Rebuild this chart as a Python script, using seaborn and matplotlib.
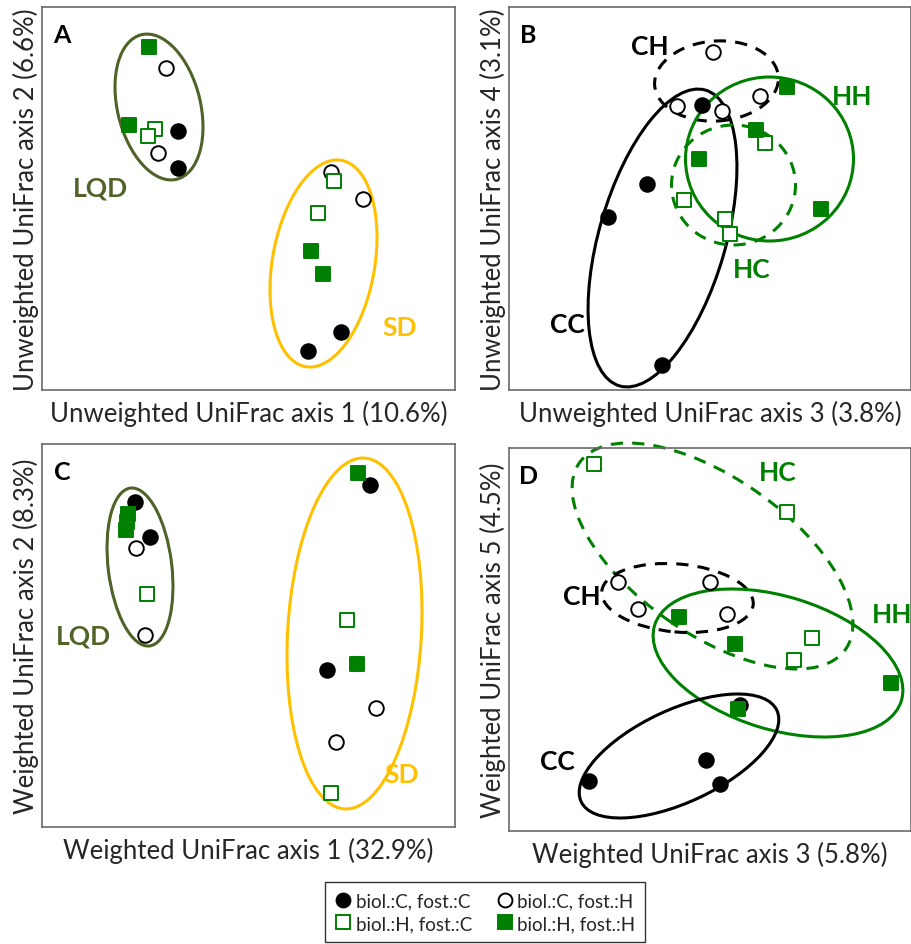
import numpy as np
import pandas as pd
import matplotlib
matplotlib.use("Agg")
import matplotlib.pyplot as plt
from matplotlib.patches import Ellipse
from matplotlib.lines import Line2D
import seaborn as sns

sns.set_theme(style="white")
plt.rcParams['font.family'] = ['Lato', 'DejaVu Sans']

# ---------------- data (panel units, arbitrary ordination scale) ----------------
groups = ["biol.:C, fost.:C", "biol.:C, fost.:H", "biol.:H, fost.:C", "biol.:H, fost.:H"]

# Panel A: Unweighted UniFrac axis 1 vs 2
A_CC_x = [136, 136, 299, 266]; A_CC_y = [259, 222, 58, 39]
A_CH_x = [124, 116, 289, 321]; A_CH_y = [322, 237, 218, 191]
A_HC_x = [113, 106, 292, 276]; A_HC_y = [261, 254, 209, 177]
A_HH_x = [107, 87, 269, 281];  A_HH_y = [343, 265, 139, 116]

# Panel B: Unweighted UniFrac axis 3 vs 4
B_CC_x = [193, 138, 99, 153];  B_CC_y = [285, 206, 173, 25]
B_CH_x = [204, 168, 213, 251]; B_CH_y = [338, 284, 279, 294]
B_HC_x = [256, 175, 216, 221]; B_HC_y = [247, 190, 171, 156]
B_HH_x = [278, 247, 190, 312]; B_HH_y = [303, 260, 231, 181]

# Panel C: Weighted UniFrac axis 1 vs 2
C_CC_x = [93, 108, 328, 285];  C_CC_y = [325, 290, 342, 157]
C_CH_x = [94, 103, 334, 294];  C_CH_y = [279, 192, 119, 85]
C_HC_x = [105, 85, 305, 289];  C_HC_y = [233, 305, 207, 34]
C_HH_x = [86, 84, 316, 315];   C_HH_y = [313, 297, 354, 163]

# Panel D: Weighted UniFrac axis 3 vs 5
D_CC_x = [231, 197, 80, 211];  D_CC_y = [126, 71, 50, 47]
D_CH_x = [109, 201, 129, 218]; D_CH_y = [249, 249, 222, 217]
D_HC_x = [85, 278, 303, 285];  D_HC_y = [367, 319, 193, 171]
D_HH_x = [170, 226, 382, 229]; D_HH_y = [214, 187, 148, 122]

# ellipses: (cx, cy, semi-major, semi-minor, angle deg, colour key, dashed)
A_ellipses = [(117, 283, 74.4, 41.5, 103.7, "olive", False),
              (281.5, 126.5, 104.7, 51.2, 80.2, "gold", False)]
B_ellipses = [(153.5, 152, 154, 63.3, 73.8, "black", False),
              (207.5, 309, 62, 40, 4, "black", True),
              (260.5, 231, 84, 82, 0, "green", False),
              (224.5, 205, 62, 60, 0, "green", True)]
C_ellipses = [(98, 260, 79.5, 31.8, 96.9, "olive", False),
              (312.5, 193.5, 175.7, 66.9, 86.8, "gold", False)]
D_ellipses = [(203.5, 275, 162.5, 78, -35, "green", True),
              (168.5, 233, 76, 34, -5, "black", True),
              (269, 168, 129, 66.6, -17, "green", False),
              (170, 75, 108, 46.3, 25, "black", False)]

# labels: (text, x, y, colour key)
A_labels = [("LQD", 58, 202, "olive"), ("SD", 358, 63, "gold")]
B_labels = [("CH", 141, 344, "black"), ("HH", 343, 294, "green"),
            ("HC", 243, 121, "green"), ("CC", 58, 66, "black")]
C_labels = [("LQD", 41, 192, "olive"), ("SD", 360, 53, "gold")]
D_labels = [("HC", 269, 359, "green"), ("CH", 73, 235, "black"),
            ("HH", 383, 217, "green"), ("CC", 48, 70, "black")]

xlabels = ["Unweighted UniFrac axis 1 (10.6%)", "Unweighted UniFrac axis 3 (3.8%)",
           "Weighted UniFrac axis 1 (32.9%)", "Weighted UniFrac axis 3 (5.8%)"]
ylabels = ["Unweighted UniFrac axis 2 (6.6%)", "Unweighted UniFrac axis 4 (3.1%)",
           "Weighted UniFrac axis 2 (8.3%)", "Weighted UniFrac axis 5 (4.5%)"]
panel_letters = ["A", "B", "C", "D"]

# ---------------- styling ----------------
COL = {"black": "black", "green": "#008000", "olive": "#4f6228", "gold": "#ffc000"}
GREEN = COL["green"]
mstyle = {
    groups[0]: dict(marker="o", facecolor="black", edgecolor="black"),
    groups[1]: dict(marker="o", facecolor="white", edgecolor="black"),
    groups[2]: dict(marker="s", facecolor="white", edgecolor=GREEN),
    groups[3]: dict(marker="s", facecolor=GREEN, edgecolor=GREEN),
}

panels = [
    dict(data=[(A_CC_x, A_CC_y), (A_CH_x, A_CH_y), (A_HC_x, A_HC_y), (A_HH_x, A_HH_y)],
         ell=A_ellipses, lab=A_labels, rect=[42, 8, 413, 383]),
    dict(data=[(B_CC_x, B_CC_y), (B_CH_x, B_CH_y), (B_HC_x, B_HC_y), (B_HH_x, B_HH_y)],
         ell=B_ellipses, lab=B_labels, rect=[509, 8, 402, 383]),
    dict(data=[(C_CC_x, C_CC_y), (C_CH_x, C_CH_y), (C_HC_x, C_HC_y), (C_HH_x, C_HH_y)],
         ell=C_ellipses, lab=C_labels, rect=[42, 445, 413, 383]),
    dict(data=[(D_CC_x, D_CC_y), (D_CH_x, D_CH_y), (D_HC_x, D_HC_y), (D_HH_x, D_HH_y)],
         ell=D_ellipses, lab=D_labels, rect=[509, 449, 402, 383]),
]

W, H = 912, 945
fig = plt.figure(figsize=(W / 100, H / 100), dpi=100)

for i, p in enumerate(panels):
    l, t, w, h = p["rect"]
    ax = fig.add_axes([l / W, 1 - (t + h) / H, w / W, h / H])
    ax.set_xlim(0, w)
    ax.set_ylim(0, h)
    for (cx, cy, a, b, ang, ck, dashed) in p["ell"]:
        e = Ellipse((cx, cy), 2 * a, 2 * b, angle=ang, fill=False,
                    edgecolor=COL[ck], linewidth=2.2, clip_on=False,
                    linestyle=(0, (4, 3)) if dashed else "-", zorder=2)
        ax.add_patch(e)
    for g, (xs, ys) in zip(groups, p["data"]):
        df = pd.DataFrame({"x": xs, "y": ys})
        st = mstyle[g]
        sns.scatterplot(data=df, x="x", y="y", ax=ax, marker=st["marker"],
                        color=st["edgecolor"], facecolor=st["facecolor"],
                        edgecolor=st["edgecolor"], linewidth=1.4,
                        s=110 if st["marker"] == "o" else 100, zorder=3,
                        clip_on=False, legend=False)
    for (txt, x, y, ck) in p["lab"]:
        ax.text(x, y, txt, color=COL[ck], fontsize=19, fontweight="bold",
                ha="center", va="center", zorder=4)
    ax.text(0.048, 0.927, panel_letters[i], transform=ax.transAxes, fontsize=18,
            fontweight="bold", ha="center", va="center", color="black")
    ax.set_xticks([]); ax.set_yticks([])
    ax.set_xlabel(xlabels[i], fontsize=18.5, labelpad=7, color="#262626")
    ax.set_ylabel(ylabels[i], fontsize=18.5, labelpad=2, color="#262626")
    for sp in ax.spines.values():
        sp.set_visible(True)
        sp.set_color("#6a6a6a")
        sp.set_linewidth(1.2)

# legend
leg_h = []
for g in groups:
    st = mstyle[g]
    leg_h.append(Line2D([], [], linestyle="none", marker=st["marker"], markersize=10,
                        markerfacecolor=st["facecolor"], markeredgecolor=st["edgecolor"],
                        markeredgewidth=1.4, label=g))
order = [0, 2, 1, 3]
fig.legend([leg_h[k] for k in order], [groups[k] for k in order], ncol=2,
           loc="upper center", bbox_to_anchor=(485 / W, 1 - 883 / H),
           fontsize=13.5, frameon=True, fancybox=False, edgecolor="black",
           handletextpad=0.2, columnspacing=1.3, handlelength=0.9,
           borderpad=0.55, labelspacing=0.3, borderaxespad=0)

fig.savefig("out.png", dpi=100)
